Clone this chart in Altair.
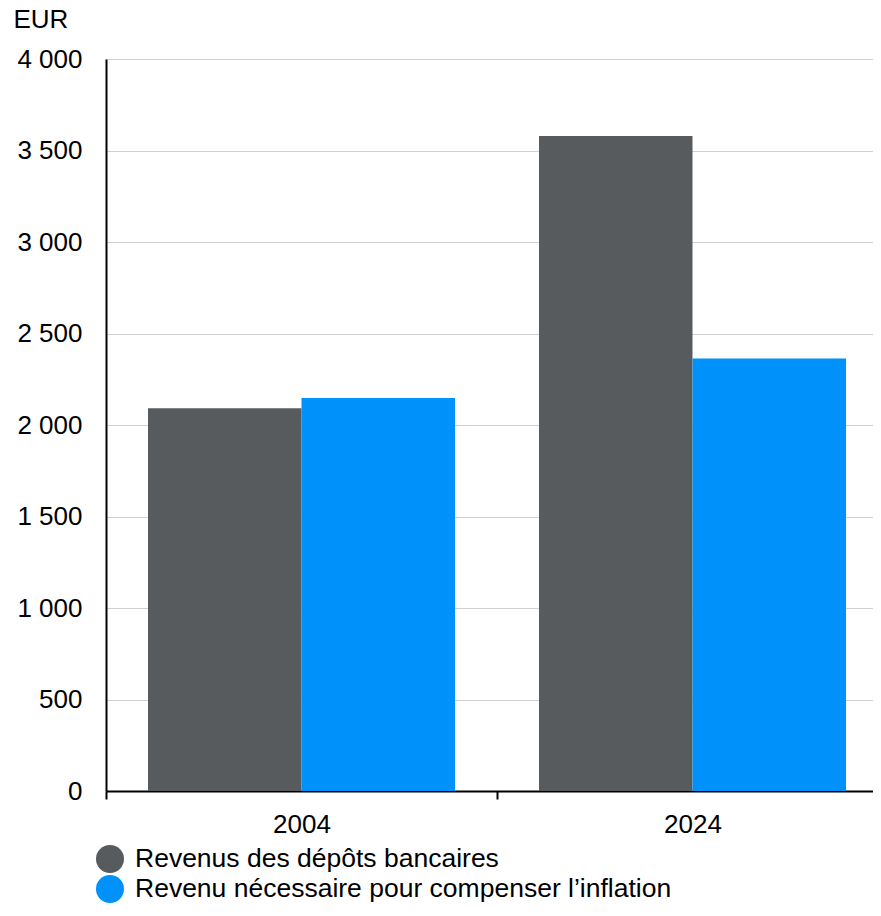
import altair as alt
import pandas as pd

years = ["2004", "2024"]
series = ["Revenus des dépôts bancaires", "Revenu nécessaire pour compenser l’inflation"]
deposits = [2091, 3579]
inflation_needed = [2148, 2364]
colors = ["#585B5E", "#0092FA"]
y_ticks = [0, 500, 1000, 1500, 2000, 2500, 3000, 3500, 4000]

rows = []
for i, yr in enumerate(years):
    rows.append({"year": yr, "series": series[0], "value": deposits[i]})
    rows.append({"year": yr, "series": series[1], "value": inflation_needed[i]})
df = pd.DataFrame(rows)

FONT = "Liberation Sans"
FS = 26

chart = alt.Chart(df).mark_bar().encode(
    x=alt.X("year:N", sort=years,
            scale=alt.Scale(range=[0, 782], paddingInner=0, paddingOuter=0, round=False),
            axis=alt.Axis(title=None, labelAngle=0, tickBand="extent", ticks=True, tickSize=8,
                          tickWidth=2, tickColor="black", domainColor="black", domainWidth=2,
                          labelFontSize=FS, labelFont=FONT, labelColor="black", labelPadding=12,
                          grid=False)),
    xOffset=alt.XOffset("series:N", sort=series,
                        scale=alt.Scale(paddingInner=0, paddingOuter=0.2736)),
    y=alt.Y("value:Q", scale=alt.Scale(domain=[0, 4000], nice=False),
            axis=alt.Axis(title="EUR", titleAngle=0, titleX=-93, titleY=-32, titleAlign="left",
                          titleBaseline="alphabetic", titleFontSize=FS, titleFont=FONT,
                          titleFontWeight="normal", titleColor="black",
                          values=y_ticks, ticks=False, domainColor="black", domainWidth=2,
                          labelFontSize=FS, labelFont=FONT, labelColor="black", labelPadding=24,
                          labelExpr="replace(format(datum.value, ','), ',', ' ')",
                          grid=True, gridColor="#D0D0D0", gridWidth=1)),
    color=alt.Color("series:N", sort=series,
                    scale=alt.Scale(domain=series, range=colors),
                    legend=alt.Legend(title=None, orient="none", legendX=-10, legendY=786,
                                      direction="vertical", symbolType="circle", symbolSize=784,
                                      symbolStrokeWidth=0, symbolOpacity=1, labelFontSize=26.5,
                                      labelFont=FONT, labelColor="black", labelOffset=11,
                                      rowPadding=2, labelLimit=1000)),
).properties(
    width=767, height=732,
    autosize=alt.AutoSizeParams(type="none"),
    padding={"left": 98, "top": 51, "right": 0, "bottom": 112},
).configure_view(stroke=None)

chart.save("out.html", embed_options={"renderer": "svg", "actions": False})
